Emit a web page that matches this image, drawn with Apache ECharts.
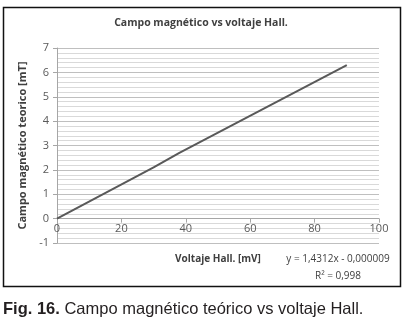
<!DOCTYPE html>
<html>
<head>
<meta charset="utf-8">
<script src="https://cdn.jsdelivr.net/npm/echarts@6/dist/echarts.min.js"></script>
<style>
  html, body { margin: 0; padding: 0; background: #fff; }
  #chart { width: 407px; height: 324px; }
</style>
</head>
<body>
<div id="chart"></div>
<script>
  // voltaje Hall [mV] y campo magnético teórico [mT]
  const voltaje = [0, 30, 38, 90];
  const campo = [0, 2.1, 2.7, 6.3];
  const xTicks = {min: 0, max: 100, interval: 20};
  const yTicks = {min: -1, max: 7, interval: 1};

  const labelFont = 'Open Sans';
  const gridTop = 48, gridBottom = 81;
  const plotHeight = 324 - gridTop - gridBottom;
  // the x axis crosses the value axis at 0
  const xAxisOffset = -plotHeight * (0 - yTicks.min) / (yTicks.max - yTicks.min);

  const chart = echarts.init(document.getElementById('chart'), null, {renderer: 'canvas'});

  const option = {
    animation: false,
    title: [{
      text: 'Campo magnético vs voltaje Hall.',
      left: 201,
      top: 18,
      padding: 0,
      textAlign: 'center',
      textStyle: {fontFamily: labelFont, fontSize: 10.5, fontWeight: 'bold', color: '#404040'}
    }, {
      text: '{b|Fig. 16.} Campo magnético teórico vs voltaje Hall.',
      left: 3,
      top: 301,
      padding: 0,
      textStyle: {
        fontFamily: 'Liberation Sans',
        fontSize: 16.5,
        fontWeight: 'normal',
        color: '#231f20',
        rich: {
          b: {fontFamily: 'Liberation Sans', fontSize: 16.5, fontWeight: 'bold', color: '#231f20'}
        }
      }
    }],
    graphic: [{
      type: 'rect',
      shape: {x: 3.5, y: 7.5, width: 397, height: 279},
      style: {fill: 'none', stroke: '#111', lineWidth: 1.5},
      silent: true
    }, {
      type: 'text',
      x: 338,
      y: 259,
      style: {
        text: 'y = 1,4312x - 0,000009',
        fontFamily: labelFont, fontSize: 10, fill: '#404040',
        align: 'center', verticalAlign: 'middle'
      }
    }, {
      type: 'text',
      x: 338,
      y: 276,
      style: {
        text: 'R² = 0,998',
        fontFamily: labelFont, fontSize: 10, fill: '#404040',
        align: 'center', verticalAlign: 'middle'
      }
    }],
    grid: {left: 57, right: 28, top: gridTop, bottom: gridBottom},
    xAxis: {
      type: 'value',
      min: xTicks.min,
      max: xTicks.max,
      interval: xTicks.interval,
      offset: xAxisOffset,
      name: 'Voltaje Hall. [mV]',
      nameLocation: 'middle',
      nameGap: 36,
      nameTextStyle: {fontFamily: labelFont, fontSize: 10, fontWeight: 'bold', color: '#404040'},
      axisLine: {onZero: false, lineStyle: {color: '#a6a6a6', width: 1}},
      axisTick: {show: true, inside: false, length: 4, lineStyle: {color: '#a6a6a6'}},
      axisLabel: {fontFamily: labelFont, fontSize: 11, color: '#595959', margin: 5},
      splitLine: {show: false}
    },
    yAxis: {
      type: 'value',
      min: yTicks.min,
      max: yTicks.max,
      interval: yTicks.interval,
      name: 'Campo magnético teorico [mT]',
      nameLocation: 'middle',
      nameGap: 27,
      nameTextStyle: {fontFamily: labelFont, fontSize: 11, fontWeight: 'bold', color: '#404040'},
      axisLine: {show: true, onZero: false, lineStyle: {color: '#a6a6a6', width: 1}},
      axisTick: {show: true, length: 4, lineStyle: {color: '#a6a6a6'}},
      axisLabel: {fontFamily: labelFont, fontSize: 11, color: '#595959', margin: 8},
      splitLine: {show: true, lineStyle: {color: '#bfbfbf', width: 1}},
      minorTick: {show: false, splitNumber: 5},
      minorSplitLine: {show: true, lineStyle: {color: '#d9d9d9', width: 1}}
    },
    series: [{
      type: 'line',
      data: voltaje.map((v, i) => [v, campo[i]]),
      showSymbol: false,
      lineStyle: {color: '#595959', width: 2},
      smooth: false
    }]
  };

  chart.setOption(option);
</script>
</body>
</html>
